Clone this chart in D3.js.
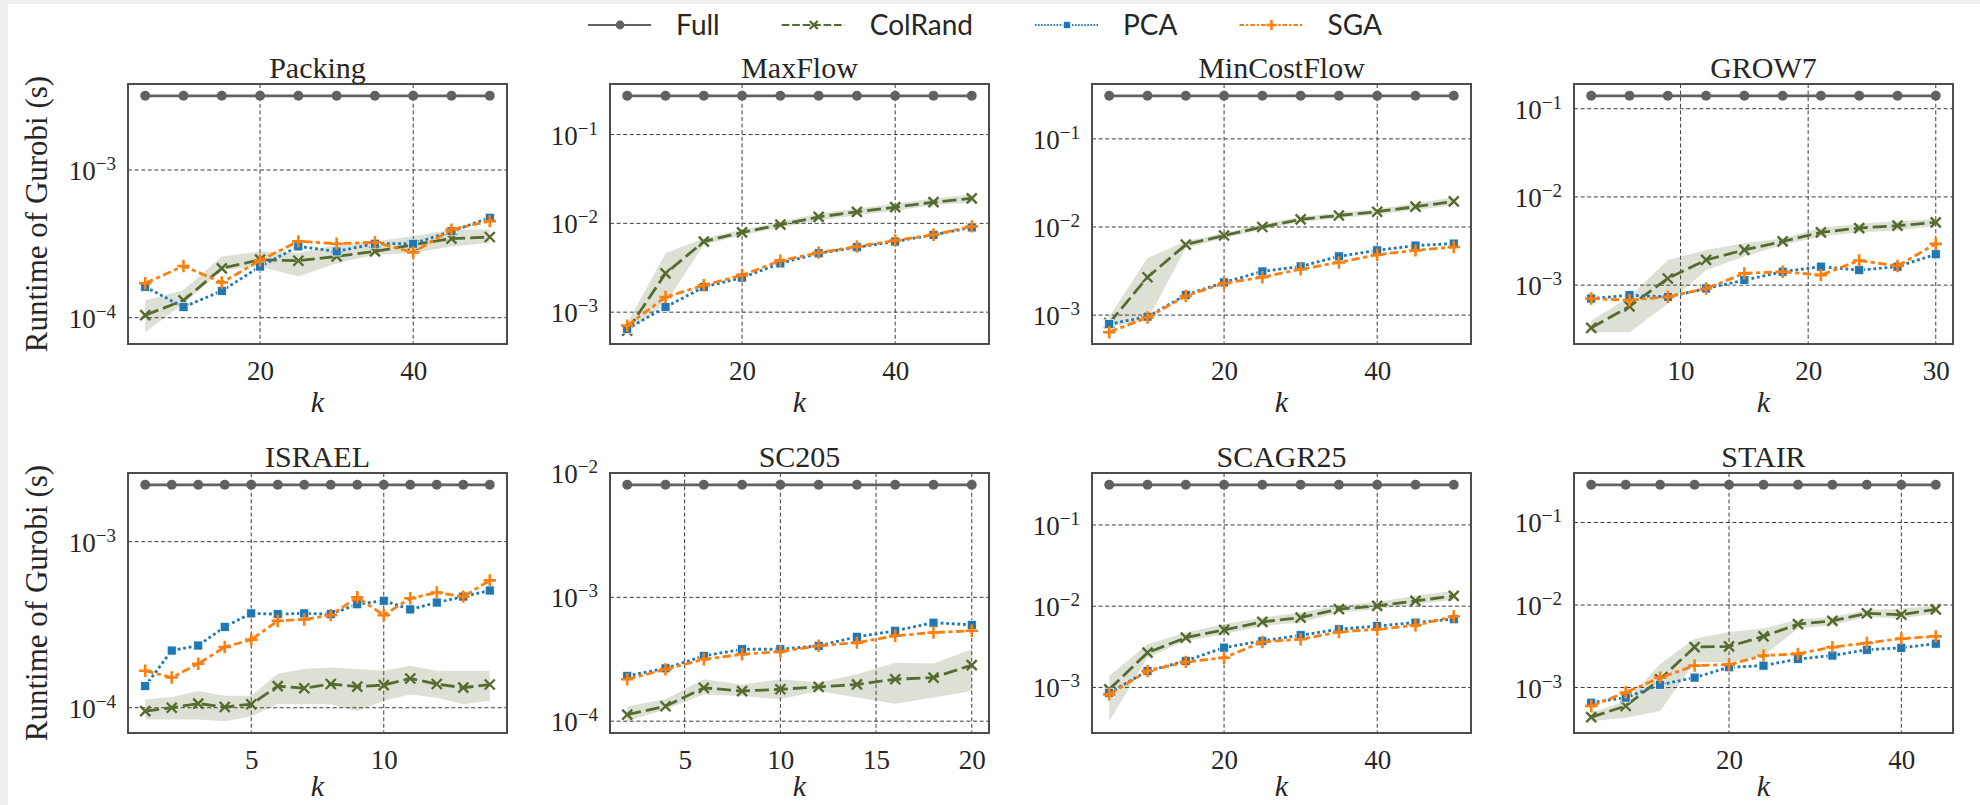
<!DOCTYPE html>
<html>
<head>
<meta charset="utf-8">
<script src="https://cdn.jsdelivr.net/npm/d3@7"></script>
<style>
  body { margin: 0; background: #fff; }
  svg { display: block; }
</style>
</head>
<body>
<svg id="chart" width="1980" height="805"></svg>
<script>
const W = 1980, H = 805;

const panelNames = ["Packing", "MaxFlow", "MinCostFlow", "GROW7", "ISRAEL", "SC205", "SCAGR25", "STAIR"];
const methods = ["Full", "ColRand", "PCA", "SGA"];

// Packing
const packingK = [5, 10, 15, 20, 25, 30, 35, 40, 45, 50];
const packingTicks = [20, 40];
const packingFull = [3.18e-3, 3.18e-3, 3.18e-3, 3.18e-3, 3.18e-3, 3.18e-3, 3.18e-3, 3.18e-3, 3.18e-3, 3.18e-3];
const packingColRand = [1.04e-4, 1.31e-4, 2.16e-4, 2.47e-4, 2.43e-4, 2.6e-4, 2.81e-4, 3.12e-4, 3.43e-4, 3.52e-4];
const packingLo = [7.98e-5, 1.25e-4, 2.1e-4, 2.22e-4, 1.9e-4, 2.34e-4, 2.67e-4, 2.74e-4, 3.04e-4, 3.21e-4];
const packingHi = [1.31e-4, 1.54e-4, 2.6e-4, 2.81e-4, 2.74e-4, 3.12e-4, 3.29e-4, 3.56e-4, 3.95e-4, 3.95e-4];
const packingPCA = [1.62e-4, 1.18e-4, 1.52e-4, 2.22e-4, 3.04e-4, 2.81e-4, 3.17e-4, 3.17e-4, 3.85e-4, 4.75e-4];
const packingSGA = [1.71e-4, 2.24e-4, 1.73e-4, 2.44e-4, 3.29e-4, 3.17e-4, 3.24e-4, 2.77e-4, 3.95e-4, 4.51e-4];

// MaxFlow
const maxflowK = [5, 10, 15, 20, 25, 30, 35, 40, 45, 50];
const maxflowTicks = [20, 40];
const maxflowFull = [0.273, 0.273, 0.273, 0.273, 0.273, 0.273, 0.273, 0.273, 0.273, 0.273];
const maxflowColRand = [6.2e-4, 2.73e-3, 6.24e-3, 7.9e-3, 9.66e-3, 1.18e-2, 1.35e-2, 1.52e-2, 1.73e-2, 1.91e-2];
const maxflowLo = [5.95e-4, 1.25e-3, 5.73e-3, 7.36e-3, 9.0e-3, 1.08e-2, 1.23e-2, 1.39e-2, 1.6e-2, 1.72e-2];
const maxflowHi = [7.5e-4, 4.6e-3, 6.81e-3, 8.47e-3, 1.04e-2, 1.29e-2, 1.47e-2, 1.66e-2, 1.91e-2, 2.12e-2];
const maxflowPCA = [6.47e-4, 1.14e-3, 1.92e-3, 2.45e-3, 3.54e-3, 4.6e-3, 5.38e-3, 6.24e-3, 7.43e-3, 9.0e-3];
const maxflowSGA = [7.05e-4, 1.48e-3, 2.01e-3, 2.61e-3, 3.8e-3, 4.68e-3, 5.48e-3, 6.41e-3, 7.43e-3, 9.25e-3];

// MinCostFlow
const mincostK = [5, 10, 15, 20, 25, 30, 35, 40, 45, 50];
const mincostTicks = [20, 40];
const mincostFull = [0.308, 0.308, 0.308, 0.308, 0.308, 0.308, 0.308, 0.308, 0.308, 0.308];
const mincostColRand = [8.1e-4, 2.69e-3, 6.31e-3, 8.0e-3, 1.0e-2, 1.22e-2, 1.35e-2, 1.49e-2, 1.7e-2, 1.95e-2];
const mincostLo = [7.36e-4, 8.77e-4, 5.78e-3, 7.45e-3, 9.36e-3, 1.14e-2, 1.26e-2, 1.39e-2, 1.56e-2, 1.76e-2];
const mincostHi = [9.57e-4, 4.45e-3, 6.89e-3, 8.57e-3, 1.08e-2, 1.31e-2, 1.45e-2, 1.6e-2, 1.86e-2, 2.17e-2];
const mincostPCA = [7.9e-4, 9.6e-4, 1.69e-3, 2.35e-3, 3.13e-3, 3.57e-3, 4.64e-3, 5.43e-3, 6.15e-3, 6.48e-3];
const mincostSGA = [6.4e-4, 9.4e-4, 1.65e-3, 2.3e-3, 2.69e-3, 3.32e-3, 3.96e-3, 4.85e-3, 5.43e-3, 5.93e-3];

// GROW7
const grow7K = [3, 6, 9, 12, 15, 18, 21, 24, 27, 30];
const grow7Ticks = [10, 20, 30];
const grow7Full = [0.14, 0.14, 0.14, 0.14, 0.14, 0.14, 0.14, 0.14, 0.14, 0.14];
const grow7ColRand = [3.28e-4, 5.75e-4, 1.19e-3, 1.93e-3, 2.51e-3, 3.13e-3, 3.96e-3, 4.44e-3, 4.72e-3, 5.15e-3];
const grow7Lo = [2.93e-4, 2.93e-4, 6.17e-4, 1.48e-3, 2.11e-3, 2.86e-3, 3.56e-3, 3.96e-3, 4.18e-3, 4.65e-3];
const grow7Hi = [3.98e-4, 7.36e-4, 1.93e-3, 2.51e-3, 2.99e-3, 3.41e-3, 4.45e-3, 4.98e-3, 5.3e-3, 5.62e-3];
const grow7PCA = [7.05e-4, 7.69e-4, 7.36e-4, 9.17e-4, 1.14e-3, 1.42e-3, 1.62e-3, 1.48e-3, 1.62e-3, 2.24e-3];
const grow7SGA = [7.05e-4, 6.75e-4, 7.36e-4, 9.17e-4, 1.36e-3, 1.42e-3, 1.3e-3, 1.9e-3, 1.65e-3, 2.94e-3];

// ISRAEL
const israelK = [1, 2, 3, 4, 5, 6, 7, 8, 9, 10, 11, 12, 13, 14];
const israelTicks = [5, 10];
const israelFull = [2.2e-3, 2.2e-3, 2.2e-3, 2.2e-3, 2.2e-3, 2.2e-3, 2.2e-3, 2.2e-3, 2.2e-3, 2.2e-3, 2.2e-3, 2.2e-3, 2.2e-3, 2.2e-3];
const israelColRand = [9.55e-5, 1.0e-4, 1.06e-4, 1.01e-4, 1.05e-4, 1.35e-4, 1.31e-4, 1.39e-4, 1.34e-4, 1.37e-4, 1.5e-4, 1.39e-4, 1.32e-4, 1.38e-4];
const israelLo = [8.49e-5, 8.49e-5, 8.49e-5, 8.3e-5, 8.89e-5, 1.05e-4, 1.05e-4, 1.05e-4, 9.55e-5, 1.1e-4, 1.2e-4, 1.15e-4, 1.05e-4, 1.1e-4];
const israelHi = [1.12e-4, 1.16e-4, 1.26e-4, 1.18e-4, 1.18e-4, 1.6e-4, 1.71e-4, 1.75e-4, 1.71e-4, 1.67e-4, 1.79e-4, 1.67e-4, 1.67e-4, 1.67e-4];
const israelPCA = [1.35e-4, 2.21e-4, 2.37e-4, 3.07e-4, 3.7e-4, 3.66e-4, 3.7e-4, 3.66e-4, 4.2e-4, 4.41e-4, 3.91e-4, 4.3e-4, 4.67e-4, 5.08e-4];
const israelSGA = [1.67e-4, 1.52e-4, 1.84e-4, 2.32e-4, 2.57e-4, 3.34e-4, 3.4e-4, 3.61e-4, 4.63e-4, 3.61e-4, 4.56e-4, 4.94e-4, 4.67e-4, 5.85e-4];

// SC205
const sc205K = [2, 4, 6, 8, 10, 12, 14, 16, 18, 20];
const sc205Ticks = [5, 10, 15, 20];
const sc205Full = [8.1e-3, 8.1e-3, 8.1e-3, 8.1e-3, 8.1e-3, 8.1e-3, 8.1e-3, 8.1e-3, 8.1e-3, 8.1e-3];
const sc205ColRand = [1.13e-4, 1.32e-4, 1.86e-4, 1.75e-4, 1.81e-4, 1.89e-4, 1.98e-4, 2.18e-4, 2.25e-4, 2.84e-4];
const sc205Lo = [1.0e-4, 1.25e-4, 1.64e-4, 1.6e-4, 1.5e-4, 1.75e-4, 1.55e-4, 1.38e-4, 1.55e-4, 1.75e-4];
const sc205Hi = [1.32e-4, 1.5e-4, 2.18e-4, 1.98e-4, 2.18e-4, 2.05e-4, 2.39e-4, 2.97e-4, 2.92e-4, 3.81e-4];
const sc205PCA = [2.32e-4, 2.67e-4, 3.36e-4, 3.81e-4, 3.81e-4, 4.06e-4, 4.8e-4, 5.37e-4, 6.24e-4, 6.0e-4];
const sc205SGA = [2.18e-4, 2.62e-4, 3.16e-4, 3.47e-4, 3.65e-4, 4.06e-4, 4.31e-4, 4.89e-4, 5.2e-4, 5.37e-4];

// SCAGR25
const scagrK = [5, 10, 15, 20, 25, 30, 35, 40, 45, 50];
const scagrTicks = [20, 40];
const scagrFull = [0.312, 0.312, 0.312, 0.312, 0.312, 0.312, 0.312, 0.312, 0.312, 0.312];
const scagrColRand = [9.44e-4, 2.68e-3, 4.1e-3, 5.1e-3, 6.41e-3, 7.25e-3, 9.19e-3, 1.01e-2, 1.16e-2, 1.34e-2];
const scagrLo = [3.84e-4, 2.32e-3, 3.73e-3, 4.51e-3, 5.71e-3, 6.28e-3, 8.35e-3, 9.19e-3, 1.06e-2, 1.2e-2];
const scagrHi = [1.38e-3, 3.4e-3, 4.73e-3, 6.0e-3, 7.24e-3, 8.35e-3, 1.03e-2, 1.13e-2, 1.34e-2, 1.55e-2];
const scagrPCA = [8.6e-4, 1.59e-3, 2.12e-3, 3.09e-3, 3.73e-3, 4.39e-3, 5.2e-3, 5.72e-3, 6.28e-3, 6.91e-3];
const scagrSGA = [8.2e-4, 1.59e-3, 2.06e-3, 2.32e-3, 3.63e-3, 3.92e-3, 4.82e-3, 5.2e-3, 5.82e-3, 7.45e-3];

// STAIR
const stairK = [4, 8, 12, 16, 20, 24, 28, 32, 36, 40, 44];
const stairTicks = [20, 40];
const stairFull = [0.286, 0.286, 0.286, 0.286, 0.286, 0.286, 0.286, 0.286, 0.286, 0.286, 0.286];
const stairColRand = [4.38e-4, 5.97e-4, 1.26e-3, 3.09e-3, 3.15e-3, 4.17e-3, 5.85e-3, 6.43e-3, 7.91e-3, 7.62e-3, 8.86e-3];
const stairLo = [3.91e-4, 4.3e-4, 5.18e-4, 2.02e-3, 2.02e-3, 2.44e-3, 5.18e-3, 5.69e-3, 7.19e-3, 6.87e-3, 7.91e-3];
const stairHi = [4.94e-4, 6.87e-4, 1.93e-3, 3.91e-3, 4.71e-3, 5.18e-3, 6.67e-3, 7.19e-3, 8.69e-3, 9.02e-3, 1.0e-2];
const stairPCA = [6.55e-4, 7.55e-4, 1.08e-3, 1.32e-3, 1.76e-3, 1.84e-3, 2.22e-3, 2.44e-3, 2.87e-3, 3.03e-3, 3.4e-3];
const stairSGA = [5.97e-4, 8.7e-4, 1.32e-3, 1.84e-3, 1.9e-3, 2.44e-3, 2.56e-3, 3.09e-3, 3.46e-3, 3.91e-3, 4.17e-3];

const panels = [
  {k: packingK, ticks: packingTicks, full: packingFull, col: packingColRand, lo: packingLo, hi: packingHi, pca: packingPCA, sga: packingSGA},
  {k: maxflowK, ticks: maxflowTicks, full: maxflowFull, col: maxflowColRand, lo: maxflowLo, hi: maxflowHi, pca: maxflowPCA, sga: maxflowSGA},
  {k: mincostK, ticks: mincostTicks, full: mincostFull, col: mincostColRand, lo: mincostLo, hi: mincostHi, pca: mincostPCA, sga: mincostSGA},
  {k: grow7K, ticks: grow7Ticks, full: grow7Full, col: grow7ColRand, lo: grow7Lo, hi: grow7Hi, pca: grow7PCA, sga: grow7SGA},
  {k: israelK, ticks: israelTicks, full: israelFull, col: israelColRand, lo: israelLo, hi: israelHi, pca: israelPCA, sga: israelSGA},
  {k: sc205K, ticks: sc205Ticks, full: sc205Full, col: sc205ColRand, lo: sc205Lo, hi: sc205Hi, pca: sc205PCA, sga: sc205SGA},
  {k: scagrK, ticks: scagrTicks, full: scagrFull, col: scagrColRand, lo: scagrLo, hi: scagrHi, pca: scagrPCA, sga: scagrSGA},
  {k: stairK, ticks: stairTicks, full: stairFull, col: stairColRand, lo: stairLo, hi: stairHi, pca: stairPCA, sga: stairSGA}
];

// series styles (seaborn-like)
const styles = {
  Full:    {color: "#616161", dash: null,               marker: "o"},
  ColRand: {color: "#556b2f", dash: "14,5",             marker: "x"},
  PCA:     {color: "#1f77b4", dash: "2.8,2.8",          marker: "s"},
  SGA:     {color: "#ff7f0e", dash: "8.4,3.5,4.2,3.5",  marker: "+"}
};

const serif = "'Liberation Serif', 'DejaVu Serif', serif";
const sans = "Lato, 'Open Sans', 'DejaVu Sans', sans-serif";

const colX = [128, 610, 1092, 1574];
const rowY = [84, 473];
const pw = 379, ph = 260;

const svg = d3.select("#chart");
svg.append("rect").attr("width", W).attr("height", H).attr("fill", "#fff");
// light frame at the top and left of the screenshot
svg.append("rect").attr("width", W).attr("height", 4).attr("fill", "#efefef");
svg.append("rect").attr("width", 8).attr("height", H).attr("fill", "#efefef");

function drawMarker(sel, type, color, size) {
  if (type === "o") {
    sel.append("circle").attr("r", size * 0.55).attr("fill", color);
  } else if (type === "s") {
    sel.append("rect").attr("x", -size * 0.45).attr("y", -size * 0.45)
      .attr("width", size * 0.9).attr("height", size * 0.9)
      .attr("fill", color).attr("stroke", "#fff").attr("stroke-width", 0.7);
  } else if (type === "x") {
    const s = size * 0.5;
    sel.append("path").attr("d", `M${-s},${-s}L${s},${s}M${-s},${s}L${s},${-s}`)
      .attr("stroke", color).attr("stroke-width", 2.4).attr("fill", "none");
  } else {
    const s = size * 0.62;
    sel.append("path").attr("d", `M${-s},0H${s}M0,${-s}V${s}`)
      .attr("stroke", color).attr("stroke-width", 2.6).attr("fill", "none");
  }
}

function drawPanel(p, i) {
  const row = Math.floor(i / 4);
  const g = svg.append("g")
    .attr("transform", `translate(${colX[i % 4]},${rowY[row]})`);

  const kExt = d3.extent(p.k);
  const kPad = (kExt[1] - kExt[0]) * 0.05;
  const x = d3.scaleLinear().domain([kExt[0] - kPad, kExt[1] + kPad]).range([0, pw]);

  const all = [].concat(p.full, p.col, p.lo, p.hi, p.pca, p.sga);
  const lmin = Math.log10(d3.min(all)), lmax = Math.log10(d3.max(all));
  const lp = (lmax - lmin) * 0.05;
  const y = d3.scaleLog().domain([10 ** (lmin - lp), 10 ** (lmax + lp)]).range([ph, 0]);
  const exps = d3.range(Math.ceil(lmin - lp - 0.005), Math.floor(lmax + lp + 0.005) + 1);
  const yTicks = exps.map(e => 10 ** e);

  const clipId = "clip" + i;
  g.append("clipPath").attr("id", clipId)
    .append("rect").attr("width", pw).attr("height", ph);

  // grid
  const grid = g.append("g").attr("stroke", "#3c3c3c").attr("stroke-width", 1)
    .attr("stroke-dasharray", "4,2.6");
  grid.selectAll(".gx").data(p.ticks).join("line")
    .attr("x1", d => x(d)).attr("x2", d => x(d)).attr("y1", 0).attr("y2", ph);
  grid.selectAll(".gy").data(yTicks).join("line")
    .attr("x1", 0).attr("x2", pw)
    .attr("y1", d => Math.max(0, y(d))).attr("y2", d => Math.max(0, y(d)));

  // axes
  const xa = g.append("g").attr("transform", `translate(0,${ph})`)
    .call(d3.axisBottom(x).tickValues(p.ticks).tickSize(0).tickPadding(17).tickFormat(d3.format("d")));
  xa.select(".domain").remove();
  xa.selectAll("text").attr("font-family", serif).attr("font-size", 27).attr("fill", "#262626");

  const ya = g.append("g")
    .call(d3.axisLeft(y).tickValues(yTicks).tickSize(0).tickPadding(12).tickFormat(() => ""));
  ya.select(".domain").remove();
  ya.selectAll(".tick").attr("transform", d => `translate(0,${Math.max(0, y(d))})`);
  ya.selectAll(".tick text").each(function (d) {
    const t = d3.select(this).attr("font-family", serif).attr("font-size", 27)
      .attr("fill", "#262626").attr("dy", "0.37em");
    t.text(null);
    t.append("tspan").text("10");
    t.append("tspan").attr("dy", -10).attr("font-size", 19)
      .text("\u2212" + Math.abs(Math.round(Math.log10(d))));
  });

  // series
  const plot = g.append("g").attr("clip-path", `url(#${clipId})`);
  const band = p.k.map((k, j) => [k, p.lo[j], p.hi[j]]);
  plot.append("path").datum(band)
    .attr("d", d3.area().x(d => x(d[0])).y0(d => y(d[1])).y1(d => y(d[2])))
    .attr("fill", styles.ColRand.color).attr("fill-opacity", 0.2);

  const series = {Full: p.full, ColRand: p.col, PCA: p.pca, SGA: p.sga};
  const line = d3.line().x(d => x(d[0])).y(d => y(d[1]));
  methods.forEach(m => {
    const st = styles[m];
    const pts = p.k.map((k, j) => [k, series[m][j]]);
    plot.append("path").datum(pts).attr("d", line)
      .attr("fill", "none").attr("stroke", st.color).attr("stroke-width", 2.8)
      .attr("stroke-dasharray", st.dash);
    plot.selectAll(null).data(pts).join("g")
      .attr("transform", d => `translate(${x(d[0])},${y(d[1])})`)
      .each(function () { drawMarker(d3.select(this), st.marker, st.color, m === "Full" ? 9 : 10); });
  });

  // spines
  g.append("rect").attr("width", pw).attr("height", ph)
    .attr("fill", "none").attr("stroke", "#4d4d4d").attr("stroke-width", 2);

  // title and labels
  g.append("text").attr("x", pw / 2).attr("y", -6).attr("text-anchor", "middle")
    .attr("font-family", serif).attr("font-size", 30).attr("fill", "#262626")
    .text(panelNames[i]);
  g.append("text").attr("x", pw / 2).attr("y", ph + (row === 0 ? 68 : 63)).attr("text-anchor", "middle")
    .attr("font-family", serif).attr("font-style", "italic").attr("font-size", 30)
    .attr("fill", "#262626").text("k");
  if (i % 4 === 0) {
    g.append("text").attr("transform", `translate(-81,${ph / 2}) rotate(-90)`)
      .attr("text-anchor", "middle").attr("font-family", serif).attr("font-size", 31)
      .attr("fill", "#262626").text("Runtime of Gurobi (s)");
  }
}

panels.forEach(drawPanel);

// legend
const legend = svg.append("g").attr("transform", "translate(0,25)");
let cursor = 0;
methods.forEach(m => {
  const st = styles[m];
  const item = legend.append("g").attr("transform", `translate(${cursor},0)`);
  item.append("line").attr("x1", 0).attr("x2", 63)
    .attr("stroke", st.color).attr("stroke-width", 2)
    .attr("stroke-dasharray", st.dash ? st.dash.split(",").map(v => (v * 0.55).toFixed(2)).join(",") : null);
  const mk = item.append("g").attr("transform", "translate(32,0)");
  drawMarker(mk, st.marker, st.color, 8);
  const t = item.append("text").attr("x", 88).attr("dy", "0.36em")
    .attr("font-family", sans).attr("font-size", 28).attr("fill", "#262626").text(m);
  cursor += 88 + t.node().getComputedTextLength() + 62;
});
const legendWidth = cursor - 62;
legend.attr("transform", `translate(${985 - legendWidth / 2},25)`);
</script>
</body>
</html>
